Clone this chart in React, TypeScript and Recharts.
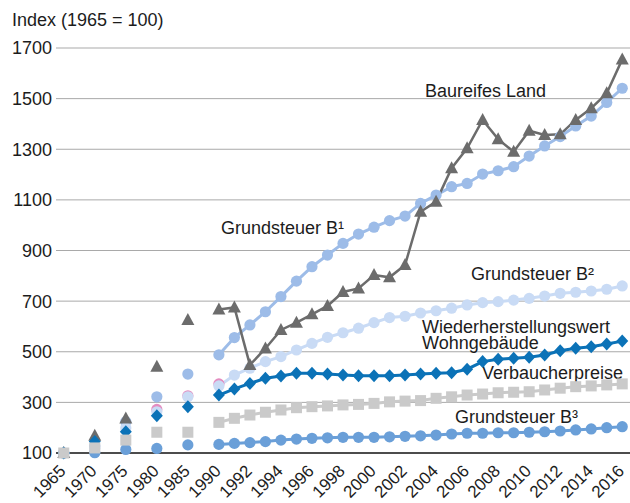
import { LineChart, Line, XAxis, YAxis, CartesianGrid } from "recharts";

// years shown on the x axis (5-year steps until 1990, yearly after)
const years = [
  1965, 1970, 1975, 1980, 1985, 1990, 1991, 1992, 1993, 1994, 1995, 1996,
  1997, 1998, 1999, 2000, 2001, 2002, 2003, 2004, 2005, 2006, 2007, 2008,
  2009, 2010, 2011, 2012, 2013, 2014, 2015, 2016,
];

const baureifesLand = [
  100, 168, 236, 441, 625, 667, 675, 448, 513, 586, 615, 648, 681, 736, 750,
  803, 794, 843, 1053, 1093, 1225, 1304, 1416, 1340, 1290, 1373, 1356, 1359,
  1416, 1462, 1521, 1655,
];
const grundsteuerB1 = [
  100, 128, 224, 322, 412, 488, 556, 606, 658, 718, 779, 836, 882, 928, 965,
  992, 1018, 1036, 1086, 1119, 1152, 1165, 1202, 1215, 1231, 1273, 1313, 1350,
  1392, 1431, 1485, 1541,
];
const grundsteuerB2 = [
  100, 118, 199, 263, 322, 365, 408, 435, 461, 481, 507, 533, 557, 575, 593,
  615, 635, 640, 653, 662, 672, 685, 694, 698, 704, 711, 720, 731, 735, 740,
  747, 760,
];
const wiederherstellungswert = [
  100, 145, 184, 247, 283, 329, 353, 375, 395, 404, 415, 415, 412, 408, 405,
  405, 405, 408, 412, 415, 417, 431, 461, 470, 474, 478, 487, 504, 514, 520,
  531, 542,
];
const verbraucherpreise = [
  100, 120, 151, 182, 182, 221, 237, 250, 261, 270, 279, 283, 286, 290, 292,
  296, 302, 305, 307, 316, 322, 329, 333, 338, 340, 342, 349, 356, 362, 365,
  369, 373,
];
const grundsteuerB3 = [
  100, 101, 114, 118, 132, 134, 138, 141, 145, 151, 155, 158, 160, 162, 162,
  162, 164, 166, 168, 171, 175, 178, 178, 180, 180, 182, 184, 187, 191, 195,
  200, 204,
];
// faint pink markers peeking out behind Grundsteuer B² (1980, 1985, 1990)
const pinkSeries: (number | null)[] = [
  null, null, null, 272, 326, 373, null, null, null, null, null, null, null,
  null, null, null, null, null, null, null, null, null, null, null, null, null,
  null, null, null, null, null, null,
];

const yTicks = [100, 300, 500, 700, 900, 1100, 1300, 1500, 1700];

// each 5-year step before 1990 takes two slots, one slot per year after
const slotOf = (year: number) =>
  year <= 1990 ? ((year - 1965) / 5) * 2 : 10 + (year - 1990);

const rows: any[] = [];
years.forEach((year, i) => {
  rows.push({
    slot: slotOf(year),
    year,
    baureifes: baureifesLand[i],
    b1: grundsteuerB1[i],
    b2: grundsteuerB2[i],
    wieder: wiederherstellungswert[i],
    vpi: verbraucherpreise[i],
    b3: grundsteuerB3[i],
    pink: pinkSeries[i],
  });
  // empty row between the 5-year points so nothing gets connected
  if (year < 1990) rows.push({ slot: slotOf(year) + 1 });
});

const xTicks = rows.filter((r) => r.year && r.slot % 2 === 0).map((r) => r.slot);
const yearAtSlot = (slot: number) => rows.find((r) => r.slot === slot)?.year ?? "";

const FONT = '"Liberation Sans", Arial, Helvetica, sans-serif';
const TEXT = "#1c1c1c";

type Shape = "circle" | "triangle" | "square" | "diamond";

const makeDot = (shape: Shape, color: string) => (props: any) => {
  const { cx, cy, index } = props;
  const k = `d-${shape}-${color}-${index}`;
  if (cx == null || cy == null || Number.isNaN(cy)) return <g key={k} />;
  if (shape === "circle") return <circle key={k} cx={cx} cy={cy} r={5.6} fill={color} />;
  if (shape === "square")
    return <rect key={k} x={cx - 5.5} y={cy - 5.5} width={11} height={11} fill={color} />;
  if (shape === "diamond")
    return (
      <polygon
        key={k}
        points={`${cx},${cy - 6.5} ${cx + 6},${cy} ${cx},${cy + 6.5} ${cx - 6},${cy}`}
        fill={color}
      />
    );
  return (
    <polygon
      key={k}
      points={`${cx},${cy - 7} ${cx + 6.5},${cy + 5} ${cx - 6.5},${cy + 5}`}
      fill={color}
    />
  );
};

const XTick = ({ x, y, payload }: any) => {
  const ax = x + 3;
  const ay = y + 19;
  return (
    <text
      x={ax}
      y={ay}
      transform={`rotate(-45 ${ax} ${ay})`}
      textAnchor="end"
      fontSize={17}
      fontFamily={FONT}
      fill={TEXT}
    >
      {yearAtSlot(payload.value)}
    </text>
  );
};

const labelStyle = { fontSize: 18, fontFamily: FONT, fill: TEXT };

export default function App() {
  const series = [
    { key: "b1", color: "#9dbce8", shape: "circle" as Shape, width: 3 },
    { key: "pink", color: "#e48cc0", shape: "circle" as Shape, width: 0 },
    { key: "b2", color: "#c9dbf5", shape: "circle" as Shape, width: 3 },
    { key: "baureifes", color: "#6c6c6c", shape: "triangle" as Shape, width: 2.5 },
    { key: "b3", color: "#6a9fd8", shape: "circle" as Shape, width: 3 },
    { key: "wieder", color: "#0b72b7", shape: "diamond" as Shape, width: 3 },
    { key: "vpi", color: "#cacaca", shape: "square" as Shape, width: 3 },
  ];

  return (
    <div style={{ position: "absolute", left: 0, top: 0, background: "#fff" }}>
      <LineChart
        width={630}
        height={503}
        data={rows}
        margin={{ top: 48, right: 0, bottom: 0, left: 6 }}
      >
        <CartesianGrid vertical={false} stroke="#a9a9a9" strokeWidth={1} />
        <XAxis
          dataKey="slot"
          type="number"
          domain={[-0.5, 36.5]}
          ticks={xTicks}
          interval={0}
          tick={<XTick />}
          tickLine={false}
          tickSize={0}
          tickMargin={0}
          height={50}
          axisLine={{ stroke: "#1f1f1f", strokeWidth: 1.5 }}
        />
        <YAxis
          type="number"
          domain={[100, 1700]}
          ticks={yTicks}
          interval={0}
          width={50}
          axisLine={false}
          tickLine={false}
          tickSize={0}
          tickMargin={4}
          tick={{ fontSize: 18, fontFamily: FONT, fill: TEXT }}
        />
        {series.map((s) => (
          <Line
            key={s.key}
            dataKey={s.key}
            type="linear"
            stroke={s.color}
            strokeWidth={s.width}
            connectNulls={false}
            dot={makeDot(s.shape, s.color)}
            activeDot={false}
            isAnimationActive={false}
          />
        ))}
        <text x={12} y={26} {...labelStyle}>Index (1965 = 100)</text>
        <text x={425} y={97} {...labelStyle}>Baureifes Land</text>
        <text x={221} y={234} {...labelStyle}>Grundsteuer B¹</text>
        <text x={471} y={280} {...labelStyle}>Grundsteuer B²</text>
        <text x={422} y={333} {...labelStyle}>Wiederherstellungswert</text>
        <text x={422} y={349} {...labelStyle}>Wohngebäude</text>
        <text x={482} y={379} {...labelStyle}>Verbaucherpreise</text>
        <text x={455} y={423} {...labelStyle}>Grundsteuer B³</text>
      </LineChart>
    </div>
  );
}
